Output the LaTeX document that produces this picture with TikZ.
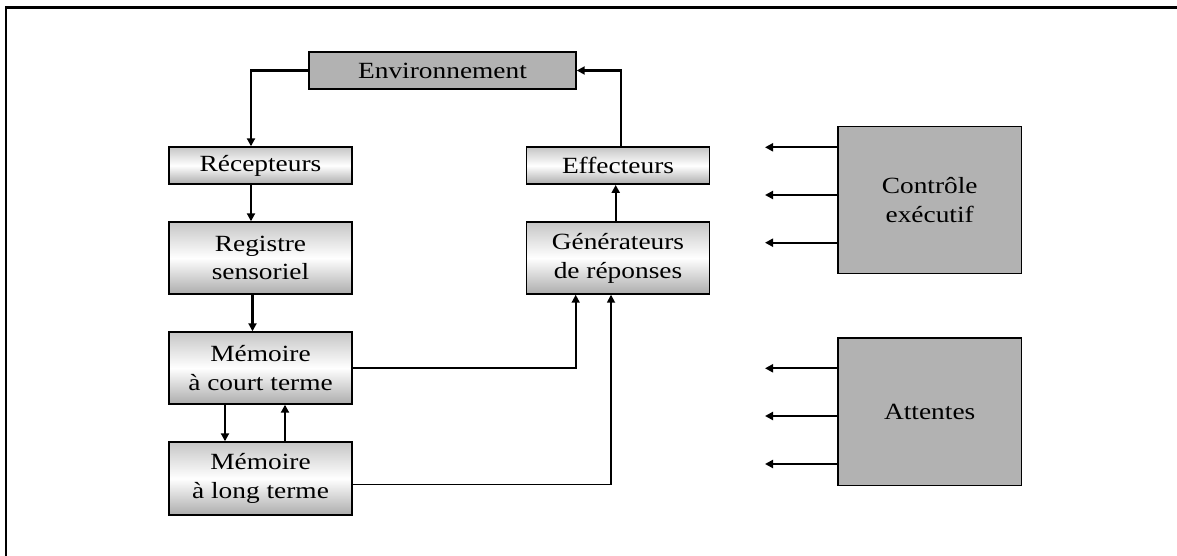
\documentclass[tikz,border=0pt]{standalone}
\usepackage{fontspec}
\setmainfont[FakeStretch=1.18]{Liberation Serif}
\usepackage{tikz}
\usetikzlibrary{arrows.meta,calc}
\definecolor{boxgray}{HTML}{B2B2B2}
\tikzset{
  gbox/.style ={draw=black, line width=1pt, fill=boxgray,
                align=center, inner sep=2pt},
  sbox/.style ={draw=black, line width=1pt, top color=gray!45,
                bottom color=gray!65, middle color=white,
                minimum width=4.575cm, align=center, inner sep=2pt},
  arr/.style  ={-{Triangle[length=2mm,width=2mm]}, line width=1.5pt},
  frame/.style={line width=1.5pt},
}

\begin{document}
\begin{tikzpicture}[x=0.025cm,y=-0.025cm,font=\fontsize{16.5}{20.5}\selectfont]
  \useasboundingbox (0,0) rectangle (1177,556);
  \draw[frame] (6,556) -- (6,7.5) -- (1177,7.5);

  % left column
  \node[gbox,minimum width=6.675cm,minimum height=0.925cm] (env) at (442.5,70.5) {Environnement};
  \node[sbox,minimum height=0.925cm] (rec) at (260.5,165.5) {Récepteurs};
  \node[sbox,minimum height=1.8cm] (reg) at (260.5,258) {Registre\\sensoriel};
  \node[sbox,minimum height=1.8cm] (mct) at (260.5,368) {Mémoire\\à court terme};
  \node[sbox,minimum height=1.825cm] (mlt) at (260.5,478.5) {Mémoire\\à long terme};
  % right column
  \node[sbox,minimum height=0.925cm] (eff) at (618,165.7) {Effecteurs};
  \node[sbox,minimum height=1.8cm] (gen) at (618,258) {Générateurs\\de réponses};
  \node[gbox,minimum width=4.575cm,minimum height=3.675cm] (ctl) at (929.7,200) {Contrôle\\exécutif};
  \node[gbox,minimum width=4.575cm,minimum height=3.675cm] (att) at (929.7,411.7) {Attentes};

  \draw[arr] (env.west) -| ($(rec.north)+(-9.5,0)$);
  \draw[arr] ($(rec.south)+(-9.5,0)$) -- ($(reg.north)+(-9.5,0)$);
  \draw[arr] ($(reg.south)+(-8,0)$) -- ($(mct.north)+(-8,0)$);
  \draw[arr] ($(mct.south)+(-35.5,0)$) -- ($(mlt.north)+(-35.5,0)$);
  \draw[arr] ($(mlt.north)+(24.5,0)$) -- ($(mct.south)+(24.5,0)$);
  \draw[arr,line width=1.2pt] (mct.east) -| ($(gen.south)+(-42.3,0)$);
  \draw[arr,line width=1.2pt] ($(mlt.east)+(0,6)$) -| ($(gen.south)+(-7,0)$);
  \draw[arr] ($(gen.north)+(-2.3,0)$) -- ($(eff.south)+(-2.3,0)$);
  \draw[arr] ($(eff.north)+(2.7,0)$) |- (env.east);

  % outputs of the two control boxes
  \foreach \i/\y in {1/147.3,2/195,3/242.7}
    \coordinate (c\i) at (765,\y);
  \foreach \i/\y in {1/368.3,2/416,3/464}
    \coordinate (a\i) at (765,\y);
  \foreach \i in {1,2,3} {
    \draw[arr] (ctl.west |- c\i) -- (c\i);
    \draw[arr] (att.west |- a\i) -- (a\i);
  }
\end{tikzpicture}
\end{document}
